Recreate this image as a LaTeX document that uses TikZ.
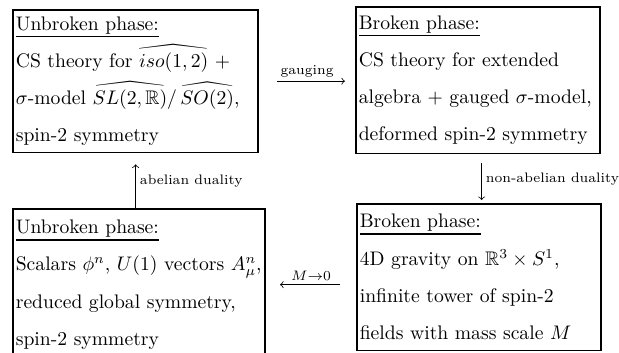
\documentclass[tikz,border=0pt]{standalone}
\usepackage{amsmath,amssymb}
\usepackage{yhmath}
\usetikzlibrary{positioning}
\newcommand{\phasehead}[1]{\setbox0\hbox{#1}\leavevmode\rlap{\rule[-3.6pt]{\wd0}{0.8pt}}\box0}

\begin{document}
\begin{tikzpicture}[x=0.0179cm,y=-0.0179cm,
  phase/.style={draw,line width=0.9pt,anchor=north west,align=left,inner xsep=1.5pt,inner ysep=0pt,font=\fontsize{10}{19}\selectfont},
  arr/.style={->,line width=0.4pt},
  lbl/.style={font=\scriptsize,inner sep=2pt}]
  \useasboundingbox (0,0) rectangle (619,353);
  \node[phase,text width=122pt,minimum height=72.6pt] (ul) at (12,9) {\phasehead{Unbroken phase:}\\ CS theory for $\widehat{iso(1,2)}\ +$\\ \mbox{$\sigma$-model $\widehat{SL(2,\mathbb{R})}/\,\widehat{SO(2)}$,}\\ spin-2 symmetry};
  \node[phase,text width=121.5pt,minimum height=74.7pt] (ur) at (355,6) {\phasehead{Broken phase:}\\ CS theory for extended\\ \mbox{algebra $+$ gauged $\sigma$-model,}\\ \mbox{deformed spin-2 symmetry}};
  \node[phase,text width=125.5pt,minimum height=77.2pt] (ll) at (12,208) {\phasehead{Unbroken phase:}\\ \mbox{Scalars $\phi^n$, $U(1)$ vectors $A^n_\mu$,}\\ reduced global symmetry,\\ spin-2 symmetry};
  \node[phase,text width=121.5pt,minimum height=74.7pt] (lr) at (356,203) {\phasehead{Broken phase:}\\ 4D gravity on $\mathbb{R}^3\times S^1$,\\ infinite tower of spin-2\\ \mbox{fields with mass scale $M$}};
  \draw[arr,shorten <=9.1pt,shorten >=5.1pt] (ul.east) -- (ul.east -| ur.west) node[midway,above,lbl] {gauging};
  \draw[arr,shorten <=4.6pt,shorten >=1.5pt] ([xshift=1.8pt]ur.south) -- ([xshift=1.8pt]ur.south |- lr.north) node[midway,right,lbl] {non-abelian duality};
  \draw[arr,shorten <=8.1pt,shorten >=7.1pt] (ll.east -| lr.west) -- (ll.east) node[midway,above,lbl] {$M{\to}0$};
  \draw[arr,shorten >=5.6pt] (ll.north -| ul.south) -- (ul.south) node[midway,right,lbl] {abelian duality};
\end{tikzpicture}
\end{document}
